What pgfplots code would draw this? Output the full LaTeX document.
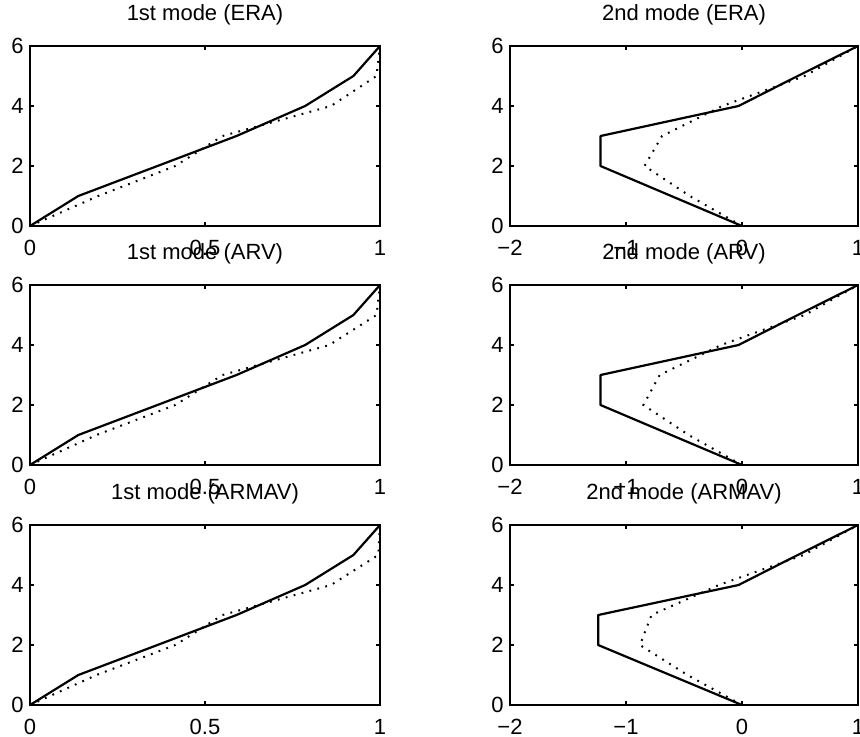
\documentclass[border=0pt]{standalone}
\usepackage{pgfplots}
\pgfplotsset{compat=1.18}
\usepackage{fontspec}
\setmainfont{Liberation Sans}

\pgfplotsset{
 modeaxis/.style={
  scale only axis, width=175pt, height=90pt,
  ymin=0, ymax=6, ytick={0,2,4,6}, yticklabels={0,2,4,6},
  tick align=inside, major tick length=2pt,
  axis line style={line width=0.8pt},
  every tick/.style={black, line width=0.6pt},
  tick label style={font=\fontsize{11}{13}\selectfont},
  yticklabel style={anchor=east, inner sep=0pt, xshift=-3pt},
  xticklabel style={anchor=north, inner sep=0pt, yshift=-7pt},
  title style={at={(0.5,1)}, anchor=base, yshift=7pt, inner sep=0pt, font=\fontsize{11}{13}\selectfont},
  clip=true,
 },
 leftmode/.style={modeaxis, xmin=0, xmax=1, xtick={0,0.5,1}, xticklabels={0,0.5,1}},
 rightmode/.style={modeaxis, width=174pt, xmin=-2, xmax=1, xtick={-2,-1,0,1}, xticklabels={−2,−1,0,1}},
 idline/.style={black, line width=1.1pt, line join=round, no markers},
 exline/.style={black, line width=1pt, dash pattern=on 0.9pt off 3.2pt, no markers},
}

\begin{document}
\begin{tikzpicture}
\useasboundingbox (0,0) rectangle (430pt,368pt);
\clip (0,0) rectangle (430pt,368pt);

% ---------- row 1 : ERA ----------
\begin{axis}[leftmode, at={(15pt,255pt)}, anchor=south west, title={1st mode (ERA)}]
\addplot[idline] coordinates {(0,0) (0.138,1) (0.364,2) (0.59,3) (0.786,4) (0.924,5) (1,6)};
\addplot[exline] coordinates {(0,0) (0.195,1) (0.415,2) (0.55,3) (0.86,4) (0.99,5) (1.0,6)};
\end{axis}
\begin{axis}[rightmode, at={(255pt,255pt)}, anchor=south west, title={2nd mode (ERA)}]
\addplot[idline] coordinates {(0,0) (-0.61,1) (-1.22,2) (-1.22,3) (-0.03,4) (0.48,5) (1,6)};
\addplot[exline] coordinates {(0,0) (-0.45,1) (-0.84,2) (-0.69,3) (-0.17,4) (0.54,5) (1,6)};
\end{axis}

% ---------- row 2 : ARV ----------
\begin{axis}[leftmode, at={(15pt,135.5pt)}, anchor=south west, title={1st mode (ARV)}]
\addplot[idline] coordinates {(0,0) (0.138,1) (0.364,2) (0.59,3) (0.786,4) (0.924,5) (1,6)};
\addplot[exline] coordinates {(0,0) (0.19,1) (0.415,2) (0.55,3) (0.855,4) (0.99,5) (1.0,6)};
\end{axis}
\begin{axis}[rightmode, at={(255pt,135.5pt)}, anchor=south west, title={2nd mode (ARV)}]
\addplot[idline] coordinates {(0,0) (-0.61,1) (-1.22,2) (-1.22,3) (-0.03,4) (0.48,5) (1,6)};
\addplot[exline] coordinates {(0,0) (-0.46,1) (-0.85,2) (-0.71,3) (-0.18,4) (0.54,5) (1,6)};
\end{axis}

% ---------- row 3 : ARMAV ----------
\begin{axis}[leftmode, at={(15pt,15.5pt)}, anchor=south west, title={1st mode (ARMAV)}]
\addplot[idline] coordinates {(0,0) (0.138,1) (0.364,2) (0.59,3) (0.786,4) (0.924,5) (1,6)};
\addplot[exline] coordinates {(0,0) (0.19,1) (0.415,2) (0.55,3) (0.86,4) (0.995,5) (1.0,6)};
\end{axis}
\begin{axis}[rightmode, at={(255pt,15.5pt)}, anchor=south west, title={2nd mode (ARMAV)}]
\addplot[idline] coordinates {(0,0) (-0.62,1) (-1.24,2) (-1.24,3) (-0.03,4) (0.48,5) (1,6)};
\addplot[exline] coordinates {(0,0) (-0.47,1) (-0.88,2) (-0.78,3) (-0.2,4) (0.53,5) (1,6)};
\end{axis}
\end{tikzpicture}
\end{document}
